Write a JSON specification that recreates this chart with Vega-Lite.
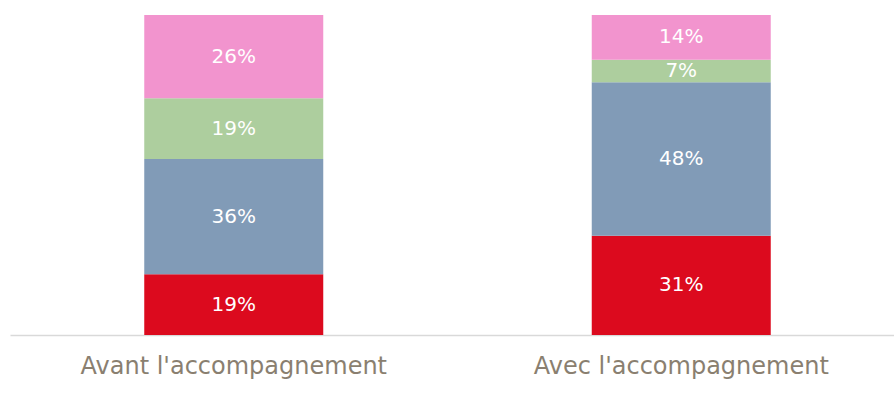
{
  "$schema": "https://vega.github.io/schema/vega-lite/v6.json",
  "autosize": "none",
  "width": 895,
  "height": 320,
  "padding": {"left": 10, "top": 15, "right": 0, "bottom": 84},
  "background": "white",
  "config": {"view": {"stroke": null}},
  "data": {
    "values": [
      {"group": "Avant l'accompagnement", "segment": "s1", "order": 1, "value": 0.19},
      {"group": "Avant l'accompagnement", "segment": "s2", "order": 2, "value": 0.36},
      {"group": "Avant l'accompagnement", "segment": "s3", "order": 3, "value": 0.19},
      {"group": "Avant l'accompagnement", "segment": "s4", "order": 4, "value": 0.26},
      {"group": "Avec l'accompagnement", "segment": "s1", "order": 1, "value": 0.31},
      {"group": "Avec l'accompagnement", "segment": "s2", "order": 2, "value": 0.48},
      {"group": "Avec l'accompagnement", "segment": "s3", "order": 3, "value": 0.07},
      {"group": "Avec l'accompagnement", "segment": "s4", "order": 4, "value": 0.14}
    ]
  },
  "transform": [
    {"stack": "value", "groupby": ["group"], "sort": [{"field": "order", "order": "ascending"}], "as": ["v0", "v1"]}
  ],
  "encoding": {
    "x": {
      "field": "group",
      "type": "nominal",
      "sort": ["Avant l'accompagnement", "Avec l'accompagnement"],
      "scale": {"paddingInner": 0.6, "paddingOuter": 0.3},
      "axis": {
        "title": null,
        "labelAngle": 0,
        "ticks": false,
        "domainColor": "#D9D9D9",
        "domainWidth": 1.5,
        "labelFont": "DejaVu Sans",
        "labelFontSize": 24,
        "labelColor": "#8A7F70",
        "labelPadding": 19,
        "labelLimit": 500
      }
    }
  },
  "layer": [
    {
      "mark": {"type": "bar"},
      "encoding": {
        "y": {"field": "v0", "type": "quantitative", "scale": {"domain": [0, 1]}, "axis": null},
        "y2": {"field": "v1"},
        "color": {
          "field": "segment",
          "type": "nominal",
          "scale": {"domain": ["s1", "s2", "s3", "s4"], "range": ["#DC0A1E", "#819BB7", "#ADCE9E", "#F294CE"]},
          "legend": null
        }
      }
    },
    {
      "transform": [{"calculate": "(datum.v0 + datum.v1) / 2", "as": "mid"}],
      "mark": {"type": "text", "color": "white", "font": "DejaVu Sans", "fontSize": 20, "baseline": "middle", "align": "center"},
      "encoding": {
        "y": {"field": "mid", "type": "quantitative", "scale": {"domain": [0, 1]}, "axis": null},
        "text": {"field": "value", "type": "quantitative", "format": ".0%"}
      }
    }
  ]
}
